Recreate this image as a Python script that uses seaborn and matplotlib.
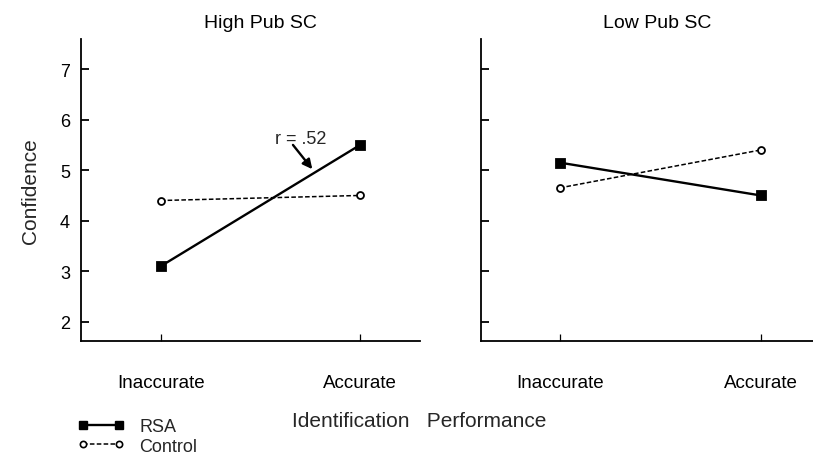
import pandas as pd
import matplotlib.pyplot as plt
import seaborn as sns
from matplotlib.lines import Line2D

# values
performance = ['Inaccurate', 'Accurate']
groups = ['RSA', 'Control']
high_rsa = [3.1, 5.5]
high_control = [4.4, 4.5]
low_rsa = [5.15, 4.5]
low_control = [4.65, 5.4]
panel_titles = ['High Pub SC', 'Low Pub SC']
yticks = [2, 3, 4, 5, 6, 7]


def make_df(rsa, control):
    rows = []
    for g, vals in zip(groups, [rsa, control]):
        for p, v in zip(performance, vals):
            rows.append({'group': g, 'performance': p, 'confidence': v})
    return pd.DataFrame(rows)


sns.set_style('white')
plt.rcParams['font.family'] = ['Liberation Sans', 'DejaVu Sans']

fig = plt.figure(figsize=(8.13, 4.6), dpi=100)
ax1 = fig.add_axes([0.0996, 0.2565, 0.417, 0.657])
ax2 = fig.add_axes([0.592, 0.2565, 0.408, 0.657])

dash = (0, (3, 1.5))
for ax, (rsa, ctrl), title in zip([ax1, ax2],
                                  [(high_rsa, high_control), (low_rsa, low_control)],
                                  panel_titles):
    df = make_df(rsa, ctrl)
    sns.pointplot(data=df, x='performance', y='confidence', hue='group',
                  order=performance, hue_order=groups,
                  palette={'RSA': 'black', 'Control': 'black'},
                  markers=['s', 'o'], linestyles=['-', '--'],
                  errorbar=None, legend=False, ax=ax)
    lines = ax.lines
    lines[0].set_linewidth(1.7)
    lines[0].set_markersize(6)
    lines[1].set_linewidth(1.1)
    lines[1].set_linestyle(dash)
    lines[1].set_markerfacecolor('white')
    lines[1].set_markeredgecolor('black')
    lines[1].set_markeredgewidth(1.3)
    lines[1].set_markersize(5)
    lines[1].set_zorder(1)

    ax.set_ylim(1.62, 7.6)
    ax.set_yticks(yticks)
    ax.set_xlabel('')
    ax.set_ylabel('')
    for s in ['top', 'right']:
        ax.spines[s].set_visible(False)
    for s in ['left', 'bottom']:
        ax.spines[s].set_linewidth(1.3)
        ax.spines[s].set_color('black')
    ax.tick_params(axis='y', left=True, direction='in', length=6, width=1.3,
                   colors='black', labelsize=13, pad=8)
    ax.tick_params(axis='x', bottom=True, direction='in', length=5, width=0.9,
                   colors='black', labelsize=13.5, pad=24)
    ax.text(0.53, 1.025, title, transform=ax.transAxes, ha='center',
            va='bottom', fontsize=14, color='black')

ax1.set_xlim(-0.40, 1.30)
ax2.set_xlim(-0.39, 1.26)
ax2.tick_params(axis='y', labelleft=False)
ax1.set_ylabel('Confidence', fontsize=15, labelpad=14)

# correlation note with its arrow
ax1.text(0.70, 5.62, 'r = .52', ha='center', va='center', fontsize=13)
ax1.annotate('', xy=(0.76, 5.02), xytext=(0.663, 5.5),
             arrowprops=dict(arrowstyle='-|>', color='black', lw=1.7,
                             mutation_scale=14, shrinkA=0, shrinkB=0))

fig.text(0.515, 0.083, 'Identification   Performance', ha='center',
         va='center', fontsize=15)

handles = [
    Line2D([], [], color='black', lw=1.7, marker='s', markersize=5.5),
    Line2D([], [], color='black', lw=1.1, ls=dash, marker='o', markersize=4.5,
           markerfacecolor='white', markeredgewidth=1.2),
]
fig.legend(handles, groups, loc='lower left', bbox_to_anchor=(0.08, -0.018),
           frameon=False, fontsize=13, numpoints=2, handlelength=2.6,
           handletextpad=0.8, labelspacing=0.15, borderpad=0.2)

fig.savefig('out.png', dpi=100)
